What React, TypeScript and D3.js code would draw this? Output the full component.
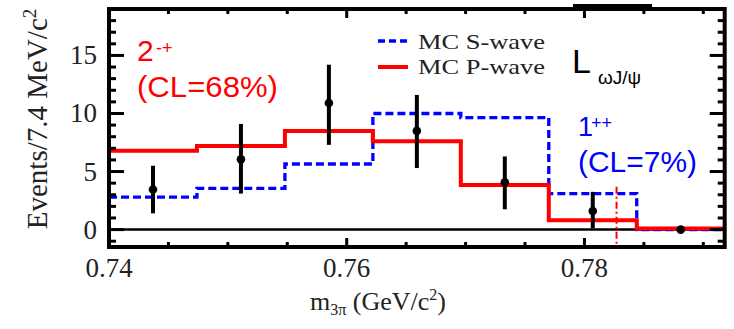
import React from "react";
import * as d3 from "d3";

// ---- data ----
const binEdges = [0.74, 0.7474, 0.7548, 0.7622, 0.7696, 0.777, 0.7844, 0.7918];
const pWave = [6.8, 7.2, 8.5, 7.6, 3.85, 0.8, 0.1];
const sWave = [2.8, 3.55, 5.65, 10.0, 9.65, 3.1, 0];
const dataX = [0.7437, 0.7511, 0.7585, 0.7659, 0.7733, 0.7807, 0.7881];
const dataY = [3.45, 6.05, 10.9, 8.5, 4.07, 1.6, 0];
const errLow = [1.4, 3.1, 7.3, 5.3, 1.75, 0.1, 0];
const errHigh = [5.5, 9.1, 14.2, 11.6, 6.3, 3.25, 0];
const yTickLabels = [0, 5, 10, 15];
const xTickLabels = [0.74, 0.76, 0.78];
const omegaMass = 0.7827;
const omegaLineTop = 3.7;

const W = 734;
const H = 329;
const L = 109, R = 724.7, T = 9, B = 247;

const serif = "'Liberation Serif', 'Times New Roman', serif";
const sans = "'Liberation Sans', Arial, sans-serif";

export default function App() {
  const x = d3.scaleLinear().domain([0.74, 0.7918]).range([L, R]);
  const y = d3.scaleLinear().domain([-1.5, 19]).range([B, T]);

  const stepPts = (vals: number[]) => {
    const pts: [number, number][] = vals.map((v, i) => [binEdges[i], v]);
    pts.push([binEdges[binEdges.length - 1], vals[vals.length - 1]]);
    return pts;
  };
  const line = d3
    .line<[number, number]>()
    .x((d) => x(d[0]))
    .y((d) => y(d[1]))
    .curve(d3.curveStepAfter);

  const yMinor = d3.range(-1, 20);
  const xMinor = d3.range(0, 11).map((i) => 0.74 + i * 0.005);
  const isMajorX = (v: number) => xTickLabels.some((t) => Math.abs(t - v) < 1e-6);

  return (
    <svg
      width={W}
      height={H}
      style={{ position: "absolute", left: 0, top: 0, background: "#fff" }}
    >
      {/* artifact bar at top */}
      <rect x={573} y={4} width={79} height={6} fill="#000" />

      {/* zero line */}
      <line x1={L} x2={R} y1={y(0)} y2={y(0)} stroke="#000" strokeWidth={2.5} />

      {/* S-wave (blue dashed) */}
      <path
        d={line(stepPts(sWave)) || ""}
        fill="none"
        stroke="#0000ff"
        strokeWidth={3.3}
        strokeDasharray="8,4"
      />
      {/* P-wave (red) */}
      <path d={line(stepPts(pWave)) || ""} fill="none" stroke="#ff0000" strokeWidth={4} />

      {/* data points */}
      {dataX.map((dx, i) => (
        <g key={i}>
          {errHigh[i] > errLow[i] && (
            <line
              x1={x(dx)}
              x2={x(dx)}
              y1={y(errLow[i])}
              y2={y(errHigh[i])}
              stroke="#000"
              strokeWidth={4}
            />
          )}
          <circle cx={x(dx)} cy={y(dataY[i])} r={4.3} fill="#000" />
        </g>
      ))}

      {/* omega mass dash-dot */}
      <line
        x1={x(omegaMass)}
        x2={x(omegaMass)}
        y1={y(omegaLineTop)}
        y2={B}
        stroke="#ff0000"
        strokeWidth={2}
        strokeDasharray="7,3,2,3"
      />

      {/* frame */}
      <rect x={L} y={T} width={R - L} height={B - T} fill="none" stroke="#000" strokeWidth={4} />

      {/* y ticks */}
      {yMinor.map((v) => {
        const major = yTickLabels.includes(v);
        const len = major ? 15 : 7;
        return (
          <g key={"y" + v}>
            <line x1={L} x2={L + len} y1={y(v)} y2={y(v)} stroke="#000" strokeWidth={3} />
            <line x1={R} x2={R - len} y1={y(v)} y2={y(v)} stroke="#000" strokeWidth={3} />
          </g>
        );
      })}
      {/* x ticks */}
      {xMinor.map((v, i) => {
        const len = isMajorX(v) ? 9 : 5;
        return (
          <g key={"x" + i}>
            <line x1={x(v)} x2={x(v)} y1={B} y2={B - len} stroke="#000" strokeWidth={3} />
            <line x1={x(v)} x2={x(v)} y1={T} y2={T + len} stroke="#000" strokeWidth={3} />
          </g>
        );
      })}

      {/* y tick labels */}
      {yTickLabels.map((v) => (
        <text
          key={"yl" + v}
          x={97}
          y={y(v) + 9}
          textAnchor="end"
          fontFamily={serif}
          fontSize={27}
          fill="#222"
        >
          {v}
        </text>
      ))}
      {/* x tick labels */}
      {xTickLabels.map((v) => (
        <text
          key={"xl" + v}
          x={x(v)}
          y={277}
          textAnchor="middle"
          fontFamily={serif}
          fontSize={27}
          fill="#222"
        >
          {v.toFixed(2)}
        </text>
      ))}

      {/* axis titles */}
      <text x={310} y={310} fontFamily={serif} fontSize={26} fill="#222">
        m<tspan fontSize={16} dy={5}>3π</tspan>
        <tspan dy={-5}> (GeV/c</tspan>
        <tspan fontSize={16} dy={-10}>2</tspan>
        <tspan dy={10}>)</tspan>
      </text>
      <text
        transform="translate(47,119) rotate(-90)"
        textAnchor="middle"
        fontFamily={serif}
        fontSize={29}
        fill="#222"
      >
        Events/7.4 MeV/c<tspan fontSize={19} dy={-11}>2</tspan>
      </text>

      {/* legend */}
      <line x1={378} x2={408} y1={41} y2={41} stroke="#0000ff" strokeWidth={3.3} strokeDasharray="7,4" />
      <line x1={378} x2={408} y1={67} y2={67} stroke="#ff0000" strokeWidth={4} />
      <text x={418} y={49} fontFamily={serif} fontSize={22} fill="#222" textLength={127} lengthAdjust="spacingAndGlyphs">
        MC S-wave
      </text>
      <text x={418} y={74} fontFamily={serif} fontSize={22} fill="#222" textLength={127} lengthAdjust="spacingAndGlyphs">
        MC P-wave
      </text>

      {/* L_{ωJ/ψ} */}
      <text x={572} y={73} fontFamily={sans} fontSize={34} fill="#000">
        L
      </text>
      <text x={598} y={84} fontFamily={sans} fontSize={19} fill="#000">
        ωJ/ψ
      </text>

      {/* 2-+ annotation */}
      <text x={137} y={61} fontFamily={sans} fontSize={30} fill="#ff0000">
        2
      </text>
      <text x={156} y={54} fontFamily={sans} fontSize={18} fill="#ff0000">
        -+
      </text>
      <text x={137} y={97} fontFamily={sans} fontSize={29} fill="#ff0000" textLength={141} lengthAdjust="spacingAndGlyphs">
        (CL=68%)
      </text>

      {/* 1++ annotation */}
      <text x={578} y={136} fontFamily={sans} fontSize={27} fill="#0000ff">
        1
      </text>
      <text x={591} y={129} fontFamily={sans} fontSize={18} fill="#0000ff">
        ++
      </text>
      <text x={578} y={172} fontFamily={sans} fontSize={29} fill="#0000ff" textLength={119} lengthAdjust="spacingAndGlyphs">
        (CL=7%)
      </text>
    </svg>
  );
}
